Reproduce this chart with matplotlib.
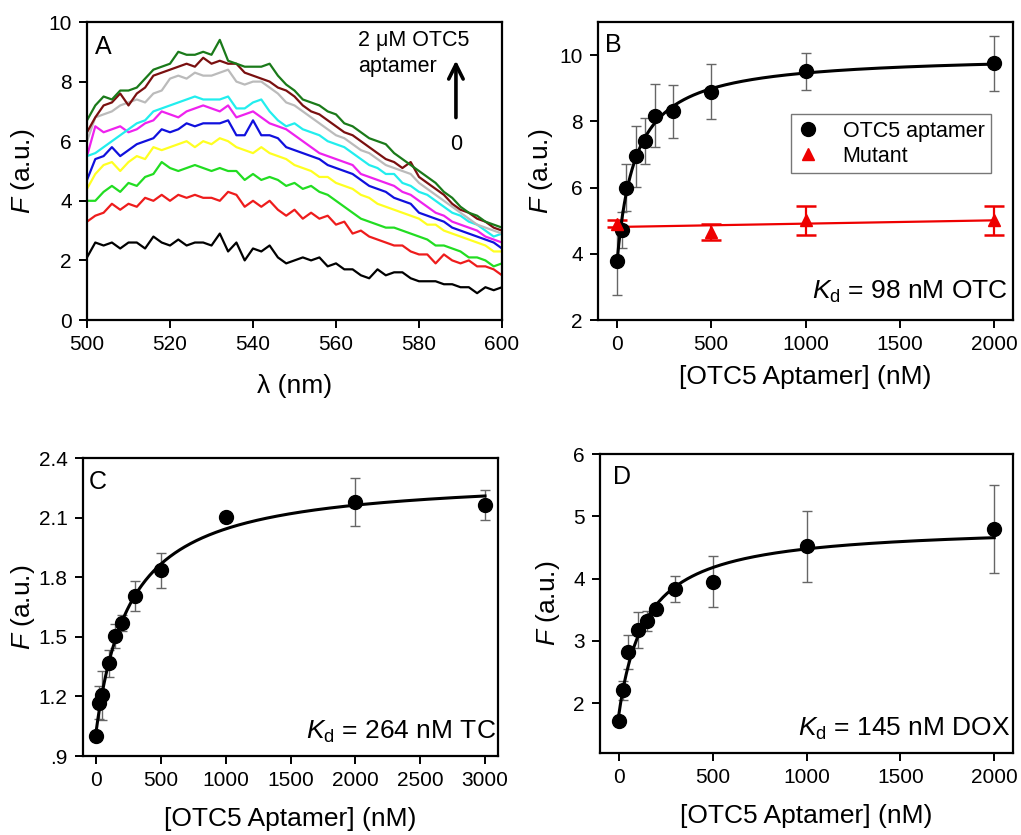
import numpy as np
import matplotlib
matplotlib.use("Agg")
import matplotlib.pyplot as plt

plt.rcParams['font.family'] = ['Liberation Sans', 'DejaVu Sans']
plt.rcParams['mathtext.fontset'] = 'custom'
plt.rcParams['mathtext.rm'] = 'Liberation Sans'
plt.rcParams['mathtext.it'] = 'Liberation Sans:italic'

# ---------------- Panel A data ----------------
wavelength = np.arange(500, 601, 2)
spec_black = [2.1, 2.6, 2.5, 2.6, 2.4, 2.6, 2.6, 2.4, 2.8, 2.6, 2.5, 2.7, 2.5, 2.6, 2.6, 2.5, 2.9, 2.3, 2.6, 2.0,
              2.4, 2.3, 2.5, 2.1, 1.9, 2.0, 2.1, 2.0, 2.1, 1.8, 1.9, 1.7, 1.7, 1.5, 1.4, 1.7, 1.5, 1.6, 1.6, 1.4,
              1.3, 1.3, 1.3, 1.2, 1.2, 1.1, 1.1, 0.9, 1.1, 1.0, 1.1]
spec_red = [3.3, 3.5, 3.6, 3.9, 3.7, 3.9, 3.8, 4.1, 4.0, 4.2, 4.0, 4.2, 4.1, 4.2, 4.1, 4.1, 4.0, 4.3, 4.2, 3.8,
            4.0, 3.8, 4.0, 3.7, 3.5, 3.7, 3.4, 3.6, 3.4, 3.5, 3.2, 3.3, 2.9, 3.0, 2.8, 2.7, 2.6, 2.5, 2.5, 2.3,
            2.2, 2.2, 1.9, 2.2, 2.0, 1.9, 2.0, 1.8, 1.8, 1.7, 1.5]
spec_green = [4.0, 4.0, 4.3, 4.5, 4.3, 4.6, 4.5, 4.8, 4.9, 5.3, 5.1, 5.0, 5.1, 5.2, 5.1, 5.0, 5.1, 5.0, 5.0, 4.7,
              4.9, 4.7, 4.8, 4.7, 4.5, 4.6, 4.4, 4.5, 4.3, 4.2, 4.0, 3.8, 3.6, 3.4, 3.3, 3.2, 3.1, 3.1, 3.0, 2.9,
              2.8, 2.7, 2.5, 2.5, 2.4, 2.3, 2.1, 2.1, 2.0, 1.8, 1.9]
spec_yellow = [4.4, 4.9, 5.2, 5.3, 5.0, 5.3, 5.5, 5.4, 5.8, 5.7, 5.8, 5.9, 6.0, 5.8, 6.0, 5.9, 6.1, 6.0, 5.8, 5.7,
               5.6, 5.8, 5.6, 5.5, 5.4, 5.2, 5.1, 5.0, 4.8, 4.8, 4.6, 4.5, 4.4, 4.2, 4.1, 3.9, 3.8, 3.7, 3.6, 3.5,
               3.4, 3.2, 3.2, 3.0, 2.9, 2.8, 2.7, 2.6, 2.5, 2.3, 2.3]
spec_blue = [4.7, 5.4, 5.5, 5.8, 5.5, 5.7, 5.9, 6.0, 6.1, 6.4, 6.3, 6.4, 6.6, 6.5, 6.6, 6.6, 6.6, 6.7, 6.2, 6.2,
             6.7, 6.2, 6.2, 6.1, 5.8, 5.7, 5.6, 5.5, 5.4, 5.2, 5.1, 5.0, 4.9, 4.7, 4.5, 4.4, 4.3, 4.1, 4.0, 3.9,
             3.6, 3.5, 3.4, 3.3, 3.1, 3.0, 2.9, 2.8, 2.7, 2.6, 2.4]
spec_magenta = [5.5, 6.5, 6.3, 6.4, 6.5, 6.3, 6.4, 6.6, 6.7, 7.0, 6.9, 6.8, 7.0, 7.1, 7.2, 7.1, 7.0, 7.2, 6.8, 6.9,
                7.0, 6.8, 6.6, 6.5, 6.4, 6.2, 6.0, 5.8, 5.6, 5.5, 5.4, 5.3, 5.2, 4.9, 4.8, 4.7, 4.6, 4.5, 4.3, 4.2,
                4.0, 3.8, 3.6, 3.5, 3.3, 3.2, 3.1, 3.0, 2.8, 2.7, 2.6]
spec_cyan = [5.5, 5.6, 5.8, 6.0, 6.2, 6.4, 6.6, 6.7, 7.0, 7.1, 7.2, 7.3, 7.4, 7.5, 7.4, 7.4, 7.4, 7.5, 7.1, 7.1,
             7.3, 7.4, 7.0, 6.7, 6.5, 6.6, 6.4, 6.3, 6.2, 6.0, 5.9, 5.8, 5.6, 5.4, 5.2, 5.1, 4.9, 4.9, 4.6, 4.5,
             4.3, 4.2, 4.0, 3.8, 3.6, 3.5, 3.3, 3.2, 3.0, 2.8, 2.9]
spec_gray = [6.0, 6.8, 6.9, 7.0, 7.2, 7.3, 7.4, 7.3, 7.6, 7.7, 8.1, 8.2, 8.1, 8.3, 8.2, 8.2, 8.3, 8.4, 8.0, 7.9,
             8.0, 8.0, 7.8, 7.6, 7.3, 7.2, 7.0, 6.8, 6.6, 6.4, 6.2, 6.1, 5.9, 5.7, 5.6, 5.4, 5.2, 5.1, 5.0, 4.9,
             4.6, 4.4, 4.2, 4.0, 3.8, 3.6, 3.4, 3.2, 3.1, 3.0, 2.9]
spec_maroon = [6.3, 6.8, 7.2, 7.3, 7.6, 7.2, 7.6, 7.8, 8.2, 8.3, 8.4, 8.5, 8.6, 8.5, 8.8, 8.6, 8.7, 8.6, 8.6, 8.3,
               8.2, 8.1, 8.0, 7.8, 7.7, 7.5, 7.2, 7.0, 6.9, 6.7, 6.5, 6.3, 6.2, 6.0, 5.8, 5.6, 5.4, 5.3, 5.1, 5.3,
               4.8, 4.6, 4.4, 4.2, 3.9, 3.7, 3.6, 3.4, 3.3, 3.1, 3.0]
spec_darkgreen = [6.7, 7.2, 7.5, 7.4, 7.7, 7.7, 7.8, 8.1, 8.4, 8.5, 8.6, 9.0, 8.9, 8.9, 9.0, 8.9, 9.4, 8.7, 8.6, 8.5,
                  8.5, 8.5, 8.6, 8.2, 7.9, 7.7, 7.4, 7.3, 7.2, 7.0, 6.9, 6.6, 6.5, 6.3, 6.1, 6.0, 5.9, 5.6, 5.4, 5.2,
                  5.0, 4.8, 4.6, 4.3, 4.1, 3.8, 3.6, 3.5, 3.3, 3.2, 3.1]
spectra = [spec_black, spec_red, spec_green, spec_yellow, spec_blue, spec_magenta,
           spec_cyan, spec_gray, spec_maroon, spec_darkgreen]
spec_colors = ['#000000', '#ee1c1c', '#22dd22', '#ffff22', '#1010dd', '#ee22ee',
               '#22eeee', '#bbbbbb', '#7a1010', '#1a7a1a']

# ---------------- Panel B data ----------------
b_conc = [0, 25, 50, 100, 150, 200, 300, 500, 1000, 2000]
b_F = [3.77, 4.72, 6.0, 6.95, 7.41, 8.17, 8.31, 8.9, 9.51, 9.75]
b_err = [1.02, 0.54, 0.71, 0.92, 0.70, 0.95, 0.80, 0.84, 0.56, 0.83]
mut_conc = [0, 500, 1000, 2000]
mut_F = [4.91, 4.66, 5.01, 5.01]
mut_err = [0.11, 0.23, 0.43, 0.44]
b_Kd = 98

# ---------------- Panel C data ----------------
c_conc = [0, 25, 50, 100, 150, 200, 300, 500, 1000, 2000, 3000]
c_F = [1.0, 1.167, 1.205, 1.368, 1.502, 1.57, 1.704, 1.835, 2.103, 2.178, 2.165]
c_err = [0.0, 0.083, 0.125, 0.068, 0.06, 0.042, 0.076, 0.088, 0.0, 0.122, 0.075]
c_Kd = 264
c_yticks = [0.9, 1.2, 1.5, 1.8, 2.1, 2.4]
c_yticklabels = ['.9', '1.2', '1.5', '1.8', '2.1', '2.4']

# ---------------- Panel D data ----------------
d_conc = [0, 25, 50, 100, 150, 200, 300, 500, 1000, 2000]
d_F = [1.717, 2.208, 2.82, 3.173, 3.32, 3.504, 3.832, 3.947, 4.517, 4.8]
d_err = [0.0, 0.155, 0.27, 0.285, 0.16, 0.09, 0.21, 0.41, 0.57, 0.71]
d_Kd = 145

W, H = 1021, 835
fig = plt.figure(figsize=(W / 100, H / 100), dpi=100)

TICK = 15
LBL = 19
KD = 19
LET = 18


def px_axes(l, t, r, b):
    return fig.add_axes([l / W, 1 - b / H, (r - l) / W, (b - t) / H])


def style(ax):
    for s in ax.spines.values():
        s.set_linewidth(1.6)
    ax.tick_params(direction='out', length=6, width=1.4, labelsize=TICK, top=False, right=False, pad=5)


def fit_curve(x, y, kd, xmax):
    x = np.asarray(x, float)
    y = np.asarray(y, float)
    u = x / (kd + x)
    A = np.vstack([np.ones_like(u), u]).T
    coef, *_ = np.linalg.lstsq(A, y, rcond=None)
    xs = np.linspace(0, xmax, 400)
    return xs, coef[0] + coef[1] * xs / (kd + xs)


# ---------------- Panel A ----------------
axA = px_axes(87, 22, 502, 320)
for ys, c in zip(spectra, spec_colors):
    axA.plot(wavelength, ys, color=c, lw=1.6)
axA.set_xlim(500, 600)
axA.set_ylim(0, 10)
axA.set_xticks([500, 520, 540, 560, 580, 600])
axA.set_yticks([0, 2, 4, 6, 8, 10])
style(axA)
axA.set_xlabel('λ (nm)', fontsize=LBL, labelpad=14)
axA.set_ylabel(r'$\mathit{F}$ (a.u.)', fontsize=LBL, labelpad=8)
axA.text(0.02, 0.955, 'A', transform=axA.transAxes, fontsize=LET, va='top', ha='left')
axA.text(565.3, 9.72, '2 μM OTC5\naptamer', fontsize=15.5, va='top', ha='left', linespacing=1.3)
axA.annotate('', xy=(588.9, 8.8), xytext=(588.9, 6.7),
             arrowprops=dict(arrowstyle='->', lw=2.6, color='black', mutation_scale=26))
axA.text(588.9, 5.9, '0', fontsize=15.5, ha='center', va='center')

# ---------------- Panel B ----------------
axB = px_axes(598, 22, 1013, 320)
xs, ys = fit_curve(b_conc, b_F, b_Kd, 2000)
axB.plot(xs, ys, color='black', lw=2.2, zorder=3)
mcoef = np.polyfit(mut_conc, mut_F, 1)
axB.plot([0, 2000], np.polyval(mcoef, [0, 2000]), color='#ee0000', lw=1.6, zorder=3)
axB.errorbar(b_conc, b_F, yerr=b_err, fmt='none', ecolor='#666666', elinewidth=1.0, capsize=3.6, capthick=1.0, zorder=2)
axB.errorbar(mut_conc, mut_F, yerr=mut_err, fmt='none', ecolor='#ee0000', elinewidth=1.6, capsize=7, capthick=1.8, zorder=2)
axB.plot(b_conc, b_F, 'o', color='black', ms=10, zorder=4, label='OTC5 aptamer')
axB.plot(mut_conc, mut_F, '^', color='#ee0000', ms=9, zorder=4, label='Mutant')
axB.set_xlim(-100, 2100)
axB.set_ylim(2, 11)
axB.set_xticks([0, 500, 1000, 1500, 2000])
axB.set_yticks([2, 4, 6, 8, 10])
style(axB)
axB.set_xlabel('[OTC5 Aptamer] (nM)', fontsize=LBL, labelpad=8)
axB.set_ylabel(r'$\mathit{F}$ (a.u.)', fontsize=LBL, labelpad=3)
axB.text(0.017, 0.963, 'B', transform=axB.transAxes, fontsize=LET, va='top', ha='left')
axB.text(0.988, 0.07, r'$\mathit{K}_{\mathrm{d}}$ = 98 nM OTC', transform=axB.transAxes,
         fontsize=KD, ha='right', va='baseline')
leg = axB.legend(loc='upper right', bbox_to_anchor=(0.947, 0.691), borderaxespad=0, fontsize=15.5,
                 frameon=True, fancybox=False, edgecolor='#555555', handletextpad=1.1, borderpad=0.3,
                 handlelength=1.0, labelspacing=0.2)
leg.get_frame().set_linewidth(1.0)

# ---------------- Panel C ----------------
axC = px_axes(83, 458, 498, 756)
xs, ys = fit_curve(c_conc, c_F, c_Kd, 3000)
axC.plot(xs, ys, color='black', lw=2.2, zorder=3)
axC.errorbar(c_conc, c_F, yerr=c_err, fmt='none', ecolor='#666666', elinewidth=1.0, capsize=3.6, capthick=1.0, zorder=2)
axC.plot(c_conc, c_F, 'o', color='black', ms=10, zorder=4)
axC.set_xlim(-100, 3100)
axC.set_ylim(0.9, 2.4)
axC.set_xticks([0, 500, 1000, 1500, 2000, 2500, 3000])
axC.set_yticks(c_yticks)
axC.set_yticklabels(c_yticklabels)
style(axC)
axC.set_xlabel('[OTC5 Aptamer] (nM)', fontsize=LBL, labelpad=12)
axC.set_ylabel(r'$\mathit{F}$ (a.u.)', fontsize=LBL, labelpad=1)
axC.text(0.015, 0.96, 'C', transform=axC.transAxes, fontsize=LET, va='top', ha='left')
axC.text(0.995, 0.058, r'$\mathit{K}_{\mathrm{d}}$ = 264 nM TC', transform=axC.transAxes,
         fontsize=KD, ha='right', va='baseline')

# ---------------- Panel D ----------------
axD = px_axes(600, 454, 1013, 753)
xs, ys = fit_curve(d_conc, d_F, d_Kd, 2000)
axD.plot(xs, ys, color='black', lw=2.2, zorder=3)
axD.errorbar(d_conc, d_F, yerr=d_err, fmt='none', ecolor='#666666', elinewidth=1.0, capsize=3.6, capthick=1.0, zorder=2)
axD.plot(d_conc, d_F, 'o', color='black', ms=10, zorder=4)
axD.set_xlim(-100, 2100)
axD.set_ylim(1.2, 6)
axD.set_xticks([0, 500, 1000, 1500, 2000])
axD.set_yticks([2, 3, 4, 5, 6])
style(axD)
axD.set_xlabel('[OTC5 Aptamer] (nM)', fontsize=LBL, labelpad=12)
axD.set_ylabel(r'$\mathit{F}$ (a.u.)', fontsize=LBL, labelpad=8)
axD.text(0.031, 0.963, 'D', transform=axD.transAxes, fontsize=LET, va='top', ha='left')
axD.text(0.994, 0.056, r'$\mathit{K}_{\mathrm{d}}$ = 145 nM DOX', transform=axD.transAxes,
         fontsize=KD, ha='right', va='baseline')

fig.savefig('out.png', dpi=100)
